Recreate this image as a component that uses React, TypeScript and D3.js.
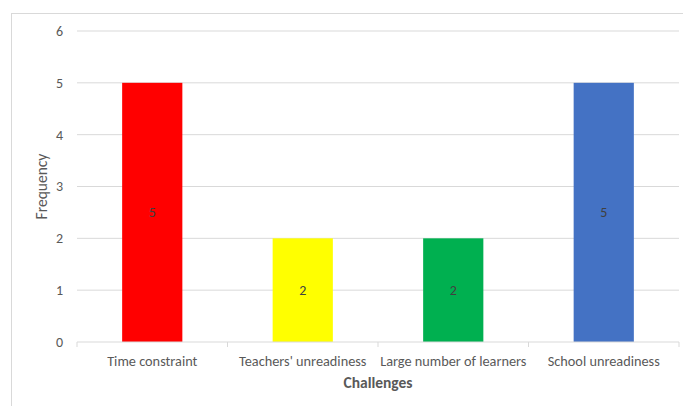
import React from 'react';
import * as d3 from 'd3';

const categories = ['Time constraint', "Teachers' unreadiness", 'Large number of learners', 'School unreadiness'];
const frequency = [5, 2, 2, 5];
const barColors = ['#FF0000', '#FFFF00', '#00B050', '#4472C4'];
const yTicks = [0, 1, 2, 3, 4, 5, 6];

const font = 'Calibri, Carlito, "Open Sans", sans-serif';

export default function App() {
    const width = 683, height = 406;
    const margin = { top: 31, right: 4, bottom: 64, left: 77 };

    const xScale = d3.scaleBand()
        .domain(categories)
        .range([margin.left, width - margin.right])
        .paddingInner(0)
        .paddingOuter(0);

    const yScale = d3.scaleLinear()
        .domain([0, 6])
        .range([height - margin.bottom, margin.top]);

    const barW = xScale.bandwidth() * 0.4;
    const y0 = yScale(0);
    const boundaries = [...categories.map(c => xScale(c) as number), width - margin.right];

    return <svg width={width} height={height} style={{ position: 'absolute', left: 0, top: 0 }}>
        <rect x={0} y={0} width={width} height={height} fill="#fff" />
        <rect x={11.5} y={13.5} width={width} height={height} fill="none" stroke="#d9d9d9" />

        {/* gridlines */}
        {yTicks.filter(t => t > 0).map(t =>
            <line key={t} x1={margin.left} x2={width - margin.right} y1={yScale(t)} y2={yScale(t)} stroke="#d9d9d9" strokeWidth={1} />
        )}

        {/* y tick labels */}
        {yTicks.map(t =>
            <text key={t} x={63} y={yScale(t)} dy="0.35em" textAnchor="end" fontFamily={font} fontSize={14} fill="#595959">{t}</text>
        )}

        {/* bars */}
        {categories.map((c, i) => {
            const cx = (xScale(c) as number) + xScale.bandwidth() / 2;
            const y = yScale(frequency[i]);
            return <g key={c}>
                <rect x={cx - barW / 2} y={y} width={barW} height={y0 - y} fill={barColors[i]} />
                <text x={cx} y={(y + y0) / 2} dy="0.35em" textAnchor="middle" fontFamily={font} fontSize={14} fill="#404040">{frequency[i]}</text>
            </g>
        })}

        {/* x axis */}
        <line x1={margin.left} x2={width - margin.right} y1={y0} y2={y0} stroke="#d9d9d9" strokeWidth={1} />
        {boundaries.map((b, i) =>
            <line key={i} x1={b} x2={b} y1={y0} y2={y0 + 5} stroke="#d9d9d9" strokeWidth={1} />
        )}
        {categories.map(c =>
            <text key={c} x={(xScale(c) as number) + xScale.bandwidth() / 2} y={361} dy="0.35em" textAnchor="middle" fontFamily={font} fontSize={14.3} fill="#595959">{c}</text>
        )}

        {/* axis titles */}
        <text x={(margin.left + width - margin.right) / 2} y={383} dy="0.35em" textAnchor="middle" fontFamily={font} fontSize={15.5} fontWeight="bold" fill="#595959">Challenges</text>
        <text transform={`translate(42,${(margin.top + y0) / 2}) rotate(-90)`} dy="0.35em" textAnchor="middle" fontFamily={font} fontSize={15.5} fill="#595959">Frequency</text>
    </svg>
}
